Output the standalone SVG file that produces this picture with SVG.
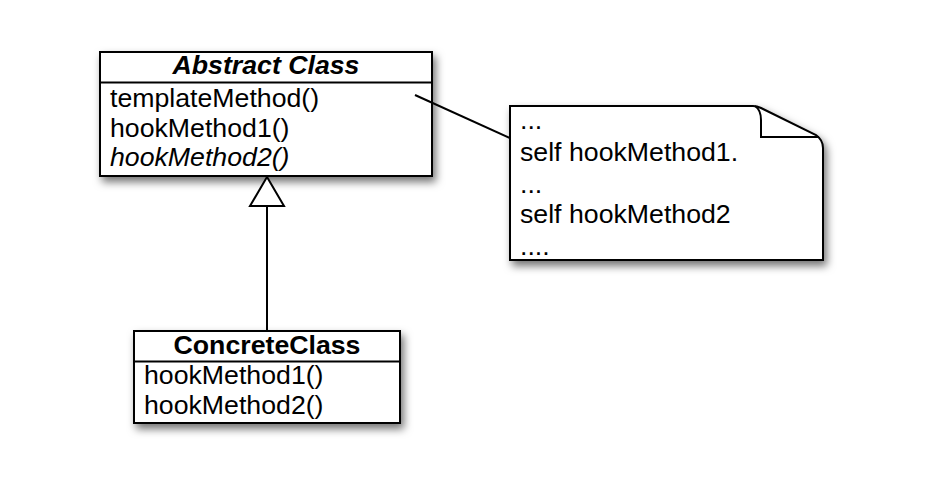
<svg xmlns="http://www.w3.org/2000/svg" width="942" height="500" viewBox="0 0 942 500">
<defs>
<filter id="sh" x="-10%" y="-10%" width="130%" height="140%">
<feDropShadow dx="3" dy="5" stdDeviation="4" flood-color="#000" flood-opacity="0.55"/>
</filter>
<style>
.box{fill:#fff;stroke:#000;stroke-width:2}
.ln{fill:none;stroke:#000;stroke-width:2}
.t{font-family:"Liberation Sans",Arial,sans-serif;font-size:26.7px;fill:#000}
.b{font-weight:bold}
.i{font-style:italic}
</style>
</defs>
<rect width="942" height="500" fill="#fff"/>
<g id="abstract-class">
<rect class="box" x="100" y="52" width="332" height="124" filter="url(#sh)"/>
<line class="ln" x1="100" y1="82.5" x2="432" y2="82.5"/>
<text class="t b i" x="266" y="74" text-anchor="middle">Abstract Class</text>
<text class="t" x="110" y="107">templateMethod()</text>
<text class="t" x="110" y="137">hookMethod1()</text>
<text class="t i" x="110" y="166">hookMethod2()</text>
</g>
<g id="concrete-class">
<rect class="box" x="134" y="331" width="266" height="92" filter="url(#sh)"/>
<line class="ln" x1="134" y1="361.5" x2="400" y2="361.5"/>
<text class="t b" x="267" y="354" text-anchor="middle">ConcreteClass</text>
<text class="t" x="144" y="384">hookMethod1()</text>
<text class="t" x="144" y="414">hookMethod2()</text>
</g>
<g id="note">
<path class="box" filter="url(#sh)" d="M510,106 L753,106 Q757,106 761,108 L816,135 Q823,140 823,148 L823,260 L510,260 Z"/>
<path class="ln" d="M755,106 Q761,110 761,120 L761,137 L819,137"/>
<text class="t" x="520" y="129">...</text>
<text class="t" x="520" y="161">self hookMethod1.</text>
<text class="t" x="520" y="193">...</text>
<text class="t" x="520" y="223">self hookMethod2</text>
<text class="t" x="520" y="255">....</text>
</g>
<g id="connectors">
<line class="ln" x1="267" y1="206" x2="267" y2="331"/>
<polygon class="box" points="267,177 250,206 284,206"/>
<line class="ln" x1="415" y1="95" x2="510" y2="138"/>
</g>
</svg>
